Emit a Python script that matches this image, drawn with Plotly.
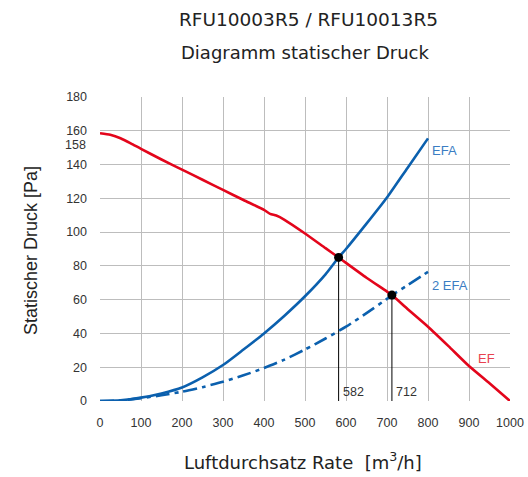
import plotly.graph_objects as go

# Airflow (m3/h) and static pressure (Pa) curves
flow = [0, 25, 50, 75, 100, 150, 200, 250, 300, 350, 400, 415, 430, 450, 500, 550, 582, 600, 650, 700, 712, 750, 800, 850, 900, 950, 1000]
ef_pressure = [158.5, 157.6, 155.6, 152.6, 149.3, 143, 137, 131, 125, 119, 113.2, 110.8, 109.8, 107.3, 99.2, 90.5, 85, 81.8, 73, 64.8, 62.7, 54.5, 44, 32.5, 20.7, 10.5, 0]

efa_flow = [0, 50, 100, 150, 200, 250, 300, 350, 400, 450, 500, 550, 582, 600, 650, 700, 750, 800]
efa_pressure = [0, 0.4, 2, 4.5, 8, 14, 21.3, 30.5, 40, 50.5, 62, 75, 85, 90, 105, 120.5, 138, 155.5]

efa2_flow = [0, 50, 100, 150, 200, 250, 300, 350, 400, 450, 500, 550, 600, 650, 700, 712, 750, 800]
efa2_pressure = [0, 0.3, 1.7, 3.4, 5.5, 8.2, 11.4, 15.2, 19.5, 24.5, 30.5, 37, 44, 52, 60.5, 62.7, 68.5, 76.5]

operating_flow = [582, 712]
operating_pressure = [85, 62.7]

x_ticks = list(range(0, 1001, 100))
y_ticks = list(range(0, 181, 20))

BLUE = "#0b60ae"
RED = "#e3051b"
FONT = "Liberation Sans, Arial, sans-serif"
TITLE_FONT = "DejaVu Sans, Liberation Sans, sans-serif"

W, H = 528, 477
LEFT, RIGHT, TOP, BOTTOM = 100, 18, 97, 76
plot_w = W - LEFT - RIGHT
plot_h = H - TOP - BOTTOM


def px_to_paper_x(px):
    return (px - LEFT) / plot_w


def px_to_paper_y(py):
    return (H - BOTTOM - py) / plot_h


fig = go.Figure()

# Vertical markers down to the operating points
for fx, fy in zip(operating_flow, operating_pressure):
    fig.add_trace(go.Scatter(x=[fx, fx], y=[0, fy], mode="lines",
                             line=dict(color="black", width=1), hoverinfo="skip", showlegend=False))

fig.add_trace(go.Scatter(x=efa2_flow, y=efa2_pressure, mode="lines",
                         line=dict(color=BLUE, width=2.6, dash="14px,5px,4px,5px", shape="spline", smoothing=0.6),
                         name="2 EFA", showlegend=False))
fig.add_trace(go.Scatter(x=efa_flow, y=efa_pressure, mode="lines",
                         line=dict(color=BLUE, width=2.6, shape="spline", smoothing=0.6),
                         name="EFA", showlegend=False))
fig.add_trace(go.Scatter(x=flow, y=ef_pressure, mode="lines",
                         line=dict(color=RED, width=2.6, shape="spline", smoothing=0.5),
                         name="EF", showlegend=False))
fig.add_trace(go.Scatter(x=operating_flow, y=operating_pressure, mode="markers",
                         marker=dict(color="black", size=9), showlegend=False))

annotations = [
    dict(text="RFU10003R5 / RFU10013R5", x=px_to_paper_x(308), y=px_to_paper_y(20),
         xref="paper", yref="paper", xanchor="center", yanchor="middle",
         showarrow=False, font=dict(family=TITLE_FONT, size=18.5, color="#222")),
    dict(text="Diagramm statischer Druck", x=px_to_paper_x(305), y=px_to_paper_y(52),
         xref="paper", yref="paper", xanchor="center", yanchor="middle",
         showarrow=False, font=dict(family=TITLE_FONT, size=18, color="#222")),
    dict(text="Luftdurchsatz Rate  [m<sup>3</sup>/h]", x=px_to_paper_x(303), y=px_to_paper_y(461),
         xref="paper", yref="paper", xanchor="center", yanchor="middle",
         showarrow=False, font=dict(family=TITLE_FONT, size=18, color="#222")),
    dict(text="Statischer Druck [Pa]", x=px_to_paper_x(31), y=px_to_paper_y(251), textangle=-90,
         xref="paper", yref="paper", xanchor="center", yanchor="middle",
         showarrow=False, font=dict(family=FONT, size=18, color="#222")),
    dict(text="EFA", x=805, y=154, xanchor="left", yanchor="top", showarrow=False,
         font=dict(size=13, color="#3b7dc3")),
    dict(text="2 EFA", x=805, y=74, xanchor="left", yanchor="top", showarrow=False,
         font=dict(size=13, color="#3b7dc3")),
    dict(text="EF", x=918, y=31, xanchor="left", yanchor="top", showarrow=False,
         font=dict(size=13, color="#e8424f")),
    dict(text="158", x=0, y=158, xanchor="right", yanchor="middle", xshift=-12, yshift=-11,
         showarrow=False, font=dict(size=12.5, color="#333")),
]
for fx in operating_flow:
    annotations.append(dict(text=str(fx), x=fx, y=0, xanchor="left", yanchor="bottom", xshift=2, yshift=0,
                            showarrow=False, font=dict(size=12.5, color="#333")))

fig.update_layout(
    width=W, height=H,
    margin=dict(l=LEFT, r=RIGHT, t=TOP, b=BOTTOM, autoexpand=False),
    plot_bgcolor="white", paper_bgcolor="white",
    font=dict(family=FONT, size=12.5, color="#333"),
    annotations=annotations,
    showlegend=False,
)
fig.update_xaxes(range=[0, 1000], tickvals=x_ticks, ticktext=[str(v) for v in x_ticks],
                 showgrid=True, gridcolor="#bdbdbd", gridwidth=1.3, zeroline=False,
                 showline=False, ticks="", ticklabelstandoff=12, automargin=False)
fig.update_yaxes(range=[0, 180], tickvals=y_ticks, showgrid=True, gridcolor="#bdbdbd", gridwidth=1.3,
                 zeroline=False, showline=False, ticks="", ticklabelstandoff=12, automargin=False)

fig.write_html("out.html")
